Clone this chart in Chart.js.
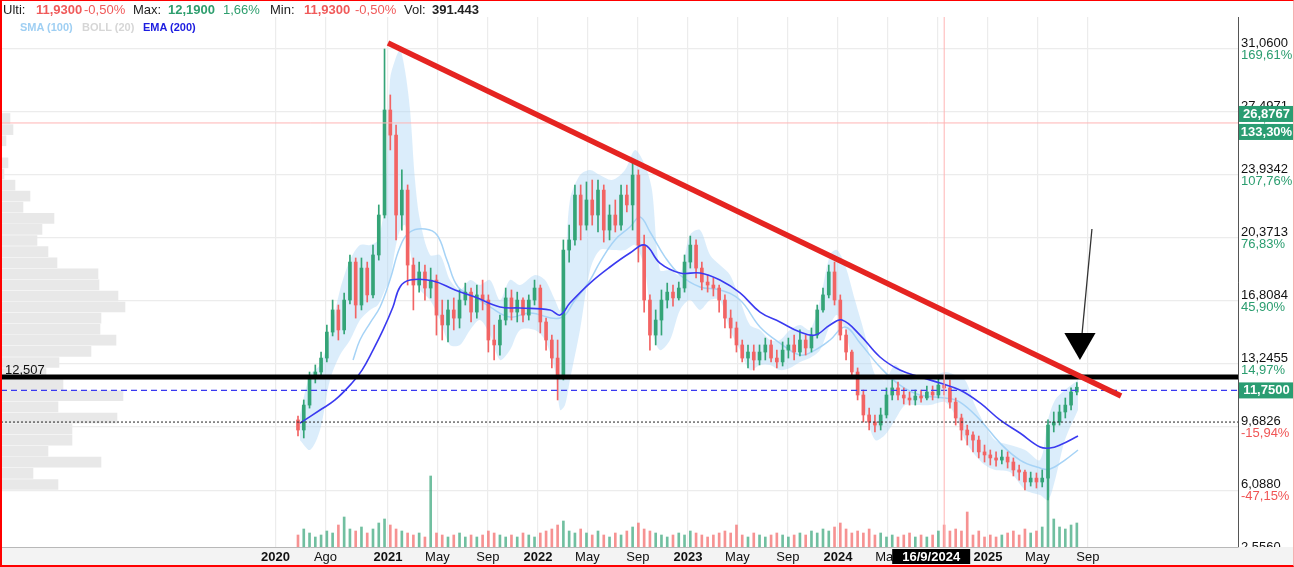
<!DOCTYPE html>
<html><head><meta charset="utf-8">
<script src="https://cdn.jsdelivr.net/npm/chart.js@4.4.1/dist/chart.umd.min.js"></script>
<style>
html,body{margin:0;padding:0;background:#fff;}
#wrap{position:relative;width:1294px;height:567px;overflow:hidden;font-family:Arial,"Liberation Sans",sans-serif;}
#c{position:absolute;left:0;top:0;}
.h{position:absolute;white-space:nowrap;line-height:1;z-index:2;}
.l1{top:3px;font-size:13px;}
.l2{top:22px;font-size:11px;font-weight:bold;}
#frame{position:absolute;left:0;top:0;width:1294px;height:567px;box-sizing:border-box;border-left:2px solid #f00;border-top:1px solid #f00;border-bottom:2px solid #f00;border-right:1px solid #f6b0b0;pointer-events:none;z-index:3;}
</style></head>
<body>
<div id="wrap">
<canvas id="c" width="1294" height="567"></canvas>
<div class="h l1" style="left:3px;color:#222">Ulti:</div>
<div class="h l1" style="left:36px;color:#f05a5a;font-weight:bold">11,9300</div>
<div class="h l1" style="left:84px;color:#f05a5a">-0,50%</div>
<div class="h l1" style="left:133px;color:#222">Max:</div>
<div class="h l1" style="left:168px;color:#2e9e6e;font-weight:bold">12,1900</div>
<div class="h l1" style="left:223px;color:#2e9e6e">1,66%</div>
<div class="h l1" style="left:270px;color:#222">Min:</div>
<div class="h l1" style="left:304px;color:#f05a5a;font-weight:bold">11,9300</div>
<div class="h l1" style="left:355px;color:#f05a5a">-0,50%</div>
<div class="h l1" style="left:404px;color:#222">Vol:</div>
<div class="h l1" style="left:432px;color:#222;font-weight:bold">391.443</div>
<div class="h l2" style="left:20px;color:#9fcff3">SMA (100)</div>
<div class="h l2" style="left:82px;color:#d6d6d6">BOLL (20)</div>
<div class="h l2" style="left:143px;color:#1d1de0">EMA (200)</div>
<div id="frame"></div>
</div>
<script>
// ---------- DATA ----------
const START = 2020.40;          // first candle (decimal year), candles every 2 weeks
const STEP = 1 / 26;
const open = [10.08,9.51,10.92,12.45,12.79,13.58,15.05,16.30,15.17,16.86,
19.01,16.58,18.67,17.15,19.41,21.67,27.61,26.19,21.67,23.08,
18.84,17.71,18.45,17.54,17.99,16.01,15.45,16.30,15.84,16.86,
17.31,16.18,17.15,16.86,14.60,14.32,15.73,16.98,16.18,16.86,
16.01,16.86,17.54,15.62,14.60,13.58,12.45,19.69,20.26,22.80,
21.10,22.52,21.67,23.08,20.82,21.67,21.10,22.80,22.24,23.93,
19.97,16.86,14.88,15.73,16.86,17.31,16.98,17.54,19.01,19.97,
18.67,17.88,17.71,17.54,16.86,15.84,15.28,14.32,13.58,13.92,
13.47,13.92,14.32,13.58,13.36,14.03,14.32,13.92,14.60,14.15,
14.88,16.30,17.15,18.45,16.86,14.88,13.92,12.79,11.49,10.36,
9.96,9.79,10.36,11.49,11.89,11.49,11.32,11.21,11.43,11.32,
11.66,11.49,12.05,11.89,11.09,10.19,9.51,9.23,8.94,8.27,
8.10,7.93,7.81,7.98,7.70,7.25,7.13,6.57,6.79,6.57,
6.79,9.79,9.96,10.53,10.92,11.66];
const close = [9.51,10.92,12.45,12.79,13.58,15.05,16.30,15.17,16.86,19.01,
16.58,18.67,17.15,19.41,21.67,27.61,26.19,21.67,23.08,18.84,
17.71,18.45,17.54,17.99,16.01,15.45,16.30,15.84,16.86,17.31,
16.18,17.15,16.86,14.60,14.32,15.73,16.98,16.18,16.86,16.01,
16.86,17.54,15.62,14.60,13.58,12.45,19.69,20.26,22.80,21.10,
22.52,21.67,23.08,20.82,21.67,21.10,22.80,22.24,23.93,19.97,
16.86,14.88,15.73,16.86,17.31,16.98,17.54,19.01,19.97,18.67,
17.88,17.71,17.54,16.86,15.84,15.28,14.32,13.58,13.92,13.47,
13.92,14.32,13.58,13.36,14.03,14.32,13.92,14.60,14.15,14.88,
16.30,17.15,18.45,16.86,14.88,13.92,12.79,11.49,10.36,9.96,
9.79,10.36,11.49,11.89,11.49,11.32,11.21,11.43,11.32,11.66,
11.49,12.05,11.89,11.09,10.19,9.51,9.23,8.94,8.27,8.10,
7.93,7.81,7.98,7.70,7.25,7.13,6.57,6.79,6.57,6.79,
9.79,9.96,10.53,10.92,11.66,11.93];
const high = [10.30,11.21,12.79,13.19,13.92,15.45,16.86,16.58,17.26,19.41,
19.24,19.24,19.01,19.97,22.24,31.06,28.46,26.76,24.22,23.37,
19.24,19.01,18.84,18.67,18.28,16.86,16.86,16.98,17.43,17.82,
17.54,17.71,17.99,17.15,15.45,16.01,17.54,17.43,17.31,16.98,
17.15,17.99,17.71,15.84,14.88,14.60,20.26,21.10,23.37,23.37,
23.54,23.65,23.65,23.37,22.24,22.52,23.37,23.37,24.61,24.22,
20.54,17.15,16.30,17.43,17.82,17.71,17.88,19.41,20.48,20.26,
19.01,18.28,18.11,17.71,17.15,16.30,15.62,14.60,14.32,14.32,
14.32,14.71,14.60,14.03,14.49,14.71,14.88,15.17,14.88,15.28,
16.58,17.54,18.84,19.01,17.15,15.17,14.03,13.02,11.77,10.75,
10.36,10.75,11.89,12.34,12.22,11.89,11.66,11.77,11.77,12.00,
12.00,12.45,12.45,12.34,11.32,10.41,9.79,9.40,9.17,8.66,
8.38,8.27,8.38,8.27,7.93,7.53,7.25,7.13,7.08,7.25,
10.08,10.53,10.92,11.32,11.89,12.19];
const low = [9.17,9.06,10.75,12.17,12.45,13.36,14.83,14.60,14.94,16.64,
15.84,16.30,16.75,16.98,19.12,21.50,25.35,20.26,20.82,17.71,
16.30,17.31,16.86,16.98,14.88,14.60,14.49,15.17,15.28,16.58,
15.62,15.84,16.30,13.92,13.47,13.75,15.45,15.73,15.62,15.62,
15.73,16.58,15.00,14.03,13.02,11.21,12.34,19.01,19.97,20.26,
20.82,21.10,20.71,20.14,20.26,20.71,20.82,21.84,20.82,19.01,
16.18,14.03,14.32,14.88,16.41,16.52,16.86,17.31,18.67,18.11,
17.43,17.31,17.09,16.18,15.28,14.71,13.92,13.36,13.02,12.90,
13.19,13.47,13.36,13.02,13.13,13.58,13.47,13.70,13.75,13.92,
14.71,16.18,16.98,16.58,14.60,13.47,12.45,11.21,9.96,9.51,
9.40,9.51,10.19,11.21,11.21,10.98,10.92,10.92,11.09,11.21,
11.21,11.32,11.49,10.75,9.79,8.94,8.66,8.27,7.93,7.70,
7.53,7.47,7.59,7.36,6.91,6.68,6.12,6.34,6.23,6.29,
5.55,9.40,9.79,10.19,10.64,11.49];
const volume = [120,180,140,100,120,160,140,220,300,180,
160,200,140,180,240,280,220,180,160,140,
120,140,100,710,140,120,100,120,140,100,
120,100,120,160,140,120,100,120,100,140,
120,100,140,160,180,220,260,160,140,180,
140,120,160,120,100,140,120,160,200,240,
180,160,140,120,100,120,140,120,160,140,
120,100,120,140,160,140,220,120,100,140,
120,100,120,140,120,100,120,140,120,160,
140,180,160,200,240,180,140,160,140,180,
120,140,100,120,100,120,140,100,120,100,
120,160,220,160,180,160,350,120,160,100,
120,100,120,140,160,120,180,140,160,200,
770,280,200,180,220,240];

const emaT = [2020.413,2020.547,2020.647,2020.76,2020.827,2020.90,2020.967,2021.033,2021.08,2021.147,2021.30,2021.447,2021.58,2021.747,2021.88,2022.08,2022.147,2022.213,2022.347,2022.48,2022.613,2022.713,2022.813,2022.947,2023.08,2023.213,2023.347,2023.48,2023.613,2023.747,2023.847,2023.947,2024.027,2024.147,2024.28,2024.413,2024.547,2024.68,2024.813,2024.947,2025.08,2025.213,2025.347,2025.413,2025.48,2025.60];
const emaV = [9.90,10.64,11.21,12.17,12.90,14.03,15.17,16.47,17.60,17.99,17.94,17.43,17.03,16.47,16.41,16.30,16.01,16.69,17.82,18.73,19.52,19.97,18.95,18.39,18.39,17.99,17.26,16.18,15.62,15.05,14.88,15.45,15.73,14.88,13.64,12.90,12.51,12.17,11.77,11.04,10.08,9.34,8.55,8.49,8.66,9.17];

const smaT = [2020.767,2020.813,2020.88,2020.947,2021.013,2021.08,2021.147,2021.247,2021.327,2021.393,2021.467,2021.58,2021.68,2021.813,2021.947,2022.147,2022.247,2022.347,2022.413,2022.513,2022.613,2022.68,2022.747,2022.847,2022.947,2023.08,2023.213,2023.347,2023.48,2023.613,2023.747,2023.847,2023.947,2024.047,2024.147,2024.28,2024.413,2024.547,2024.713,2024.813,2024.947,2025.08,2025.213,2025.347,2025.413,2025.513,2025.60];
const smaV = [13.47,14.60,15.56,16.47,17.99,19.86,20.71,20.88,20.54,19.12,17.60,17.03,16.47,15.90,16.13,15.84,16.86,17.99,19.01,20.26,20.99,21.56,20.71,19.29,18.28,17.60,17.43,16.86,15.34,14.43,13.75,14.03,14.60,15.34,14.43,13.07,12.05,11.49,11.32,11.09,10.08,8.77,7.81,7.36,7.30,7.81,8.38];

const bollT = [2020.413,2020.48,2020.547,2020.613,2020.68,2020.747,2020.813,2020.88,2020.933,2020.98,
2021.013,2021.047,2021.08,2021.113,2021.147,2021.18,2021.213,2021.28,2021.347,2021.413,
2021.48,2021.547,2021.613,2021.68,2021.747,2021.813,2021.88,2021.98,2022.047,2022.113,
2022.147,2022.18,2022.213,2022.28,2022.347,2022.413,2022.493,2022.58,2022.647,2022.713,
2022.76,2022.813,2022.88,2022.947,2023.013,2023.08,2023.147,2023.213,2023.28,2023.347,
2023.413,2023.48,2023.547,2023.613,2023.68,2023.747,2023.813,2023.88,2023.947,2023.993,
2024.047,2024.113,2024.18,2024.247,2024.313,2024.38,2024.447,2024.513,2024.613,2024.713,
2024.78,2024.847,2024.913,2024.98,2025.047,2025.147,2025.247,2025.347,2025.40,2025.447,
2025.513,2025.60];
const bollUp = [10.36,12.62,13.19,14.88,17.43,19.12,19.97,19.97,20.26,22.52,
29.31,30.44,31.00,29.87,27.61,23.65,21.39,19.41,19.41,17.99,
17.43,17.99,17.71,17.99,16.86,17.99,17.71,18.28,17.99,16.86,
16.30,18.56,22.52,23.93,24.22,23.93,23.65,24.22,25.35,24.50,
23.08,18.56,18.56,18.28,20.54,20.82,19.41,18.84,18.28,16.86,
15.45,15.17,14.60,14.60,15.17,15.45,15.17,16.86,19.41,19.69,
18.84,16.86,14.88,12.62,12.34,13.19,12.62,12.34,12.45,12.79,
12.62,12.34,10.92,9.79,8.94,8.66,8.38,7.81,10.08,11.21,
11.77,12.34];
const bollLo = [8.94,8.38,9.51,12.34,13.75,14.60,15.73,16.30,16.58,17.43,
17.99,19.69,20.82,21.10,19.69,17.99,17.43,16.86,15.73,14.32,
14.32,15.17,15.73,14.88,13.47,14.03,15.17,15.17,14.60,12.90,
10.64,10.92,12.34,15.17,18.56,19.69,19.69,19.69,19.97,18.56,
15.17,14.03,14.60,16.30,16.86,16.30,16.86,16.86,15.17,14.03,
12.90,13.19,13.19,12.90,13.02,13.36,13.58,14.03,15.45,16.01,
15.17,12.62,10.64,8.94,9.23,10.08,10.92,10.92,10.92,11.09,
10.36,8.94,8.10,7.53,7.25,7.13,6.12,5.83,5.55,6.68,
8.94,10.64];

const profPrice = [27.13,26.50,25.87,24.62,23.99,23.36,22.74,22.11,21.48,20.86,20.23,19.60,18.97,18.35,17.72,17.09,16.47,15.84,15.21,14.59,13.96,13.33,12.70,12.08,11.45,10.82,10.19,9.57,8.94,8.31,7.69,7.06,6.43];
const profVol = [9,12,5,7,3,14,29,22,53,41,36,47,56,97,98,117,124,100,99,115,90,58,45,62,122,57,116,71,71,47,100,32,57];

const yTickVals = [31.06,27.4971,23.9342,20.3713,16.8084,13.2455,9.6826,6.088];
const yTickLabels = ['31,0600','27,4971','23,9342','20,3713','16,8084','13,2455','9,6826','6,0880'];
const pctLabels = ['169,61%','138,68%','107,76%','76,83%','45,90%','14,97%','-15,94%','-47,15%'];
const LOW_TICK = 2.556, LOW_TICK_LABEL = '2,5560';

const xTickVals = [2020.25,2020.583,2021,2021.329,2021.666,2022,2022.329,2022.666,2023,2023.329,2023.666,2024,2024.33,2024.667,2025,2025.329,2025.666];
const xTickLabels = ['2020','Ago','2021','May','Sep','2022','May','Sep','2023','May','Sep','2024','May','Sep','2025','May','Sep'];

const SUPPORT = 12.507, LAST_LINE = 11.75, REF_LINE = 9.96;
const CROSS_T = 2024.708, CROSS_P = 26.8767;
const trendT = [2021.0, 2025.887], trendV = [31.40, 11.43];
const arrowT = [2025.693, 2025.62], arrowV = [20.88, 14.32];
const arrowHeadT = 2025.613, arrowHeadV = 14.49;

// ---------- CHART ----------
const X_MIN = 2018.42, X_MAX = 2026.6667, Y_MIN = 2.893, Y_MAX = 32.87;
const N = close.length;
const dates = Array.from({length: N}, (_, i) => +(START + i * STEP).toFixed(4));
const GREEN = '#34a477', RED = '#f26464';
const col = close.map((c, i) => c >= open[i] ? GREEN : RED);
const volCol = close.map((c, i) => c >= open[i] ? 'rgba(52,164,119,0.7)' : 'rgba(242,100,100,0.7)');
const pts = (t, v) => t.map((x, i) => ({x, y: v[i]}));
const hline = v => [{x: X_MIN, y: v}, {x: X_MAX, y: v}];
const noPt = {pointRadius: 0, pointHoverRadius: 0};

const deco = {
  id: 'deco',
  beforeDraw(chart) {
    const c = chart.ctx, a = chart.chartArea;
    c.save();
    c.fillStyle = '#fff'; c.fillRect(0, 0, chart.width, chart.height);
    c.fillStyle = '#f3f3f3'; c.fillRect(0, a.bottom, chart.width, chart.height - a.bottom);
    c.restore();
  },
  afterDraw(chart) {
    const c = chart.ctx, a = chart.chartArea, y = chart.scales.y, x = chart.scales.x;
    c.save();
    c.font = '13px Arial'; c.textAlign = 'left'; c.textBaseline = 'middle';
    yTickVals.forEach((v, i) => {
      const py = y.getPixelForValue(v);
      c.fillStyle = pctLabels[i].startsWith('-') ? '#f05555' : '#2a9d6f';
      c.fillText(pctLabels[i], a.right + 3, py + 6);
    });
    c.save();
    c.beginPath(); c.rect(a.right, a.top, chart.width - a.right, a.bottom - a.top); c.clip();
    c.fillStyle = '#111';
    c.fillText(LOW_TICK_LABEL, a.right + 3, y.getPixelForValue(LOW_TICK) - 6);
    c.restore();
    const badge = (bx, by, w, h, bg, txt) => {
      c.fillStyle = bg; c.fillRect(bx, by, w, h);
      c.fillStyle = '#fff'; c.font = 'bold 13px Arial'; c.textAlign = 'center'; c.textBaseline = 'middle';
      c.fillText(txt, bx + w / 2, by + h / 2 + 0.5);
    };
    const pc = y.getPixelForValue(CROSS_P);
    badge(a.right + 1, pc - 17, chart.width - a.right - 1, 16, '#2a9d72', '26,8767');
    badge(a.right + 1, pc + 1, chart.width - a.right - 1, 16, '#2a9d72', '133,30%');
    const pl = y.getPixelForValue(LAST_LINE);
    badge(a.right + 1, pl - 8, chart.width - a.right - 1, 16, '#2a9d72', '11,7500');
    const px = x.getPixelForValue(CROSS_T);
    badge(px - 52, a.bottom + 2, 78, 15, '#000', '16/9/2024');
    c.font = '13px Arial'; c.textAlign = 'left'; c.textBaseline = 'alphabetic'; c.fillStyle = '#111';
    c.fillText('12,507', a.left + 4, y.getPixelForValue(SUPPORT) - 3);
    c.restore();
  }
};

new Chart(document.getElementById('c'), {
  type: 'line',
  data: {
    datasets: [
      {type: 'bar', label: 'profile', indexAxis: 'y', xAxisID: 'xp', yAxisID: 'y',
       data: profPrice.map((p, i) => ({x: profVol[i], y: p})),
       backgroundColor: '#e8e8e8', barThickness: 10, grouped: false, order: 100},
      {type: 'line', label: 'bollUp', data: pts(bollT, bollUp), borderWidth: 0, borderColor: 'rgba(0,0,0,0)',
       backgroundColor: 'rgba(176,216,246,0.45)', fill: '+1', tension: 0.3, ...noPt, order: 90},
      {type: 'line', label: 'bollLo', data: pts(bollT, bollLo), borderWidth: 0, borderColor: 'rgba(0,0,0,0)',
       fill: false, tension: 0.3, ...noPt, order: 89},
      {type: 'line', label: 'SMA (100)', data: pts(smaT, smaV), borderColor: '#a6d3f6', borderWidth: 1.5,
       fill: false, tension: 0.4, ...noPt, order: 80},
      {type: 'bar', label: 'vol', xAxisID: 'x', yAxisID: 'yv', data: dates.map((t, i) => ({x: t, y: volume[i]})),
       backgroundColor: volCol, barThickness: 2, grouped: false, order: 70},
      {type: 'bar', label: 'wick', xAxisID: 'x', yAxisID: 'y', data: dates.map((t, i) => ({x: t, y: [low[i], high[i]]})),
       backgroundColor: col, barThickness: 1, grouped: false, order: 60},
      {type: 'bar', label: 'body', xAxisID: 'x', yAxisID: 'y', data: dates.map((t, i) => ({x: t, y: [open[i], close[i]]})),
       backgroundColor: col, barThickness: 3, minBarLength: 1, grouped: false, order: 59},
      {type: 'line', label: 'EMA (200)', data: pts(emaT, emaV), borderColor: '#3a3af0', borderWidth: 1.6,
       fill: false, tension: 0.4, ...noPt, order: 50},
      {type: 'line', label: 'ref', data: hline(REF_LINE), borderColor: '#222', borderWidth: 1, borderDash: [2, 2], ...noPt, order: 45},
      {type: 'line', label: 'last', data: hline(LAST_LINE), borderColor: '#3a3af0', borderWidth: 1.2, borderDash: [6, 4], ...noPt, order: 44},
      {type: 'line', label: 'support', data: hline(SUPPORT), borderColor: '#000', borderWidth: 5, ...noPt, order: 43},
      {type: 'line', label: 'crossV', data: [{x: CROSS_T, y: Y_MIN}, {x: CROSS_T, y: Y_MAX}], borderColor: '#ffb4b4', borderWidth: 1, ...noPt, order: 40},
      {type: 'line', label: 'crossH', data: hline(CROSS_P), borderColor: '#ffb4b4', borderWidth: 1, ...noPt, order: 39},
      {type: 'line', label: 'trend', data: pts(trendT, trendV), borderColor: '#e52421', borderWidth: 5.5, ...noPt, order: 30},
      {type: 'line', label: 'arrow', data: pts(arrowT, arrowV), borderColor: '#333', borderWidth: 1.3, ...noPt, order: 20},
      {type: 'line', label: 'arrowHead', data: [{x: arrowHeadT, y: arrowHeadV}], showLine: false,
       pointRadius: 18, pointHoverRadius: 18, pointStyle: 'triangle', pointRotation: 180,
       pointBackgroundColor: '#000', pointBorderColor: '#000', pointBorderWidth: 0, order: 19}
    ]
  },
  options: {
    responsive: false, animation: false, events: [],
    layout: {autoPadding: false, padding: {top: 17, left: 1, right: 0, bottom: 0}},
    plugins: {legend: {display: false}, tooltip: {enabled: false}},
    scales: {
      x: {type: 'linear', axis: 'x', position: 'bottom', min: X_MIN, max: X_MAX, offset: false,
          afterBuildTicks: s => { s.ticks = xTickVals.map(v => ({value: v})); },
          afterFit: s => { s.height = 20; s.paddingLeft = 0; s.paddingRight = 0; },
          ticks: {autoSkip: false, maxRotation: 0, padding: 3, color: '#111',
                  callback: (v, i) => xTickLabels[i],
                  font: c => ({family: 'Arial', size: 13, weight: /^\d/.test(xTickLabels[c.index] || '') ? 'bold' : 'normal'})},
          grid: {color: '#ececec', lineWidth: 1.2, drawTicks: false, offset: false},
          border: {color: '#b8b8b8', width: 1}},
      y: {type: 'linear', axis: 'y', position: 'right', min: Y_MIN, max: Y_MAX, offset: false,
          afterBuildTicks: s => { s.ticks = yTickVals.map(v => ({value: v})); },
          afterFit: s => { s.width = 56; s.paddingTop = 0; s.paddingBottom = 0; },
          ticks: {autoSkip: false, padding: 3, labelOffset: -6, color: '#111',
                  callback: (v, i) => yTickLabels[i], font: {family: 'Arial', size: 13}},
          grid: {color: '#ececec', lineWidth: 1.2, drawTicks: false, offset: false},
          border: {color: '#555', width: 1}},
      yv: {type: 'linear', axis: 'y', display: false, min: 0, max: 5300, offset: false},
      xp: {type: 'linear', axis: 'x', display: false, min: 0, max: 1237, offset: false}
    }
  },
  plugins: [deco]
});
</script>
</body></html>
